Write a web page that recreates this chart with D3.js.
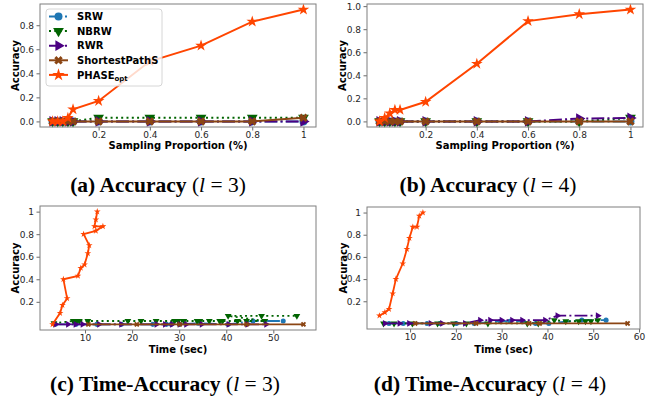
<!DOCTYPE html>
<html>
<head>
<meta charset="utf-8">
<script src="https://cdn.jsdelivr.net/npm/d3@7"></script>
<style>
  body { margin: 0; background: #fff; }
  svg { display: block; }
  .tick text { font-family: "DejaVu Sans", sans-serif; font-size: 9px; fill: #262626; }
  .lab { font-family: "DejaVu Sans", sans-serif; font-weight: bold; font-size: 10px; fill: #000; }
  .cap { font-family: "Liberation Serif", serif; font-size: 21.5px; fill: #000; }
</style>
</head>
<body>
<div id="chart"></div>
<script>
// sampling proportion panels (a), (b)
const samplingX = [0.02, 0.04, 0.06, 0.08, 0.1, 0.2, 0.4, 0.6, 0.8, 1];

const srwL3   = [0, 0, 0, 0, 0, 0, 0, 0, 0, 0];
const nbrwL3  = [0, 0, 0, 0, 0, 0.03, 0.03, 0.03, 0.03, 0.03];
const rwrL3   = [0, 0, 0, 0, 0, 0, 0, 0, 0, 0];
const spsL3   = [0, 0, 0, 0, 0, 0, 0, 0, 0, 0.03];
const phaseL3 = [0, 0, 0, 0.03, 0.1, 0.17, 0.5, 0.63, 0.83, 0.93];

const srwL4   = [0, 0, 0, 0, 0, 0, 0, 0, 0, 0];
const nbrwL4  = [0, 0, 0, 0, 0, 0, 0, 0, 0, 0.03];
const rwrL4   = [0, 0, 0, 0, 0, 0, 0, 0, 0.025, 0.03];
const spsL4   = [0, 0, 0, 0, 0, 0, 0, 0, 0, 0];
const phaseL4 = [0, 0.03, 0.07, 0.1, 0.1, 0.17, 0.5, 0.87, 0.93, 0.97];

// time-accuracy panels (c), (d)
const srwTimeL3 = [3.7, 8.1, 12.5, 17.7, 24.4, 27.3, 28.3, 30.1, 34.0, 40.4, 45.7, 52.1];
const srwAccL3  = [0, 0, 0, 0, 0, 0, 0, 0, 0.01, 0, 0.03, 0.03];
const nbrwTimeL3 = [3.4, 7.5, 8.2, 8.8, 10.6, 19.1, 21.9, 25.1, 29.0, 29.8, 31.0, 33.8, 34.4, 36.4, 38.6, 39.2, 42.4, 44.3, 48.2, 40.4, 47.5, 55.0];
const nbrwAccL3  = [0.01, 0.03, 0.03, 0.03, 0.03, 0.03, 0.03, 0.03, 0.03, 0.03, 0.03, 0.03, 0.03, 0.03, 0.03, 0.03, 0.03, 0.03, 0.03, 0.075, 0.075, 0.075];
const rwrTimeL3 = [3.7, 6.4, 8.0, 9.5, 13.0, 17.7, 25.2, 27.0, 28.5, 30.1, 31.5, 34.8, 40.5, 44.5, 48.5];
const rwrAccL3  = [0, 0, 0, 0, 0, 0, 0, 0, 0, 0, 0, 0, 0, 0, 0];
const spsTimeL3 = [10.7, 21.0, 30.1, 44.3, 56.4];
const spsAccL3  = [0, 0, 0, 0, 0];
const phaseTimeL3 = [3.1, 4.7, 5.2, 6.2, 5.4, 8.5, 9.1, 9.9, 10.6, 10.9, 9.7, 12.3, 13.8, 12.0, 12.3, 12.6];
const phaseAccL3  = [0, 0.1, 0.17, 0.23, 0.40, 0.43, 0.50, 0.53, 0.63, 0.70, 0.80, 0.83, 0.87, 0.87, 0.93, 1.0];

const srwTimeL4 = [5.4, 8.5, 13.7, 16.5, 20.1, 24.0, 29.7, 31.8, 34.5, 37.4, 40.3, 47.5, 52.8];
const srwAccL4  = [0, 0, 0, 0, 0, 0, 0.02, 0.02, 0.02, 0, 0, 0.03, 0.03];
const nbrwTimeL4 = [4.2, 6.5, 10.5, 16.0, 19.5, 22.3, 27.0, 35.6, 38.0, 41.5, 44.0, 46.8, 48.3, 49.5, 51.0];
const nbrwAccL4  = [0, 0, 0, 0, 0, 0, 0, 0, 0, 0.03, 0.02, 0.02, 0.02, 0.02, 0.03];
const rwrTimeL4 = [4.5, 7.7, 9.8, 14.5, 17.0, 22.0, 25.3, 27.5, 30.0, 32.3, 34.5, 39.5, 42.2, 51.0];
const rwrAccL4  = [0, 0, 0, 0, 0, 0, 0.03, 0.03, 0.03, 0.03, 0.03, 0.03, 0.07, 0.07];
const spsTimeL4 = [11.1, 24.4, 36.0, 38.3, 57.5];
const spsAccL4  = [0, 0, 0, 0, 0];
const phaseTimeL4 = [3.3, 4.5, 5.4, 6.2, 6.9, 8.4, 9.3, 9.85, 10.6, 11.5, 12.0, 12.8];
const phaseAccL4  = [0.07, 0.1, 0.13, 0.27, 0.40, 0.54, 0.67, 0.77, 0.87, 0.87, 0.97, 1.0];

const methodNames = ["SRW", "NBRW", "RWR", "ShortestPathS", "PHASE"];
const propTicks = [0.2, 0.4, 0.6, 0.8, 1];

const styles = [
  { color: "#1f77b4", dash: "12.8,3.2,2,3.2", shape: "circle" },
  { color: "#006400", dash: "2,3.3", shape: "down" },
  { color: "#4b0082", dash: "12.8,3.2,2,3.2", shape: "right" },
  { color: "#8b4513", dash: null, shape: "x" },
  { color: "#ff4500", dash: null, shape: "star" }
];

const W = 649, H = 402;
const svg = d3.select("#chart").append("svg").attr("width", W).attr("height", H);

function zip(xs, ys) { return xs.map((x, i) => [x, ys[i]]); }

function padded(vals) {
  const [a, b] = d3.extent(vals);
  const m = (b - a) * 0.05;
  return [a - m, b + m];
}

function marker(shape, size, starSize) {
  const sym = d3.symbol();
  if (shape === "circle") return { d: sym.type(d3.symbolCircle).size(size)(), rot: 0 };
  if (shape === "down") return { d: sym.type(d3.symbolTriangle).size(size)(), rot: 180 };
  if (shape === "right") return { d: sym.type(d3.symbolTriangle).size(size)(), rot: 90 };
  if (shape === "x") return { d: sym.type(d3.symbolCross).size(size * 0.9)(), rot: 45 };
  return { d: sym.type(d3.symbolStar).size(starSize)(), rot: 0 };
}

function panel(p) {
  const allX = [].concat(...p.series.map(s => s.map(d => d[0])));
  const allY = [].concat(...p.series.map(s => s.map(d => d[1])));
  const x = d3.scaleLinear().domain(padded(allX)).range([p.left, p.right]);
  const y = d3.scaleLinear().domain(padded(allY)).range([p.bottom, p.top]);
  const g = svg.append("g");

  const xa = g.append("g").attr("transform", `translate(0,${p.bottom})`)
    .call(d3.axisBottom(x).tickValues(p.xTicks).tickFormat(p.xFmt).tickSize(3.5).tickPadding(1.5));
  const ya = g.append("g").attr("transform", `translate(${p.left},0)`)
    .call(d3.axisLeft(y).tickValues(p.yTicks).tickFormat(p.yFmt).tickSize(3.5).tickPadding(2.5));
  [xa, ya].forEach(a => {
    a.select(".domain").remove();
    a.selectAll(".tick line").attr("stroke", "#444").attr("stroke-width", 0.8);
  });

  const line = d3.line().x(d => x(d[0])).y(d => y(d[1]));
  p.series.forEach((s, i) => {
    const st = styles[i];
    g.append("path").datum(s).attr("d", line)
      .attr("fill", "none").attr("stroke", st.color).attr("stroke-width", p.lw)
      .attr("stroke-dasharray", st.dash);
    const m = marker(st.shape, p.ms, p.star);
    g.selectAll(null).data(s).join("path")
      .attr("d", m.d).attr("fill", st.color)
      .attr("transform", d => `translate(${x(d[0])},${y(d[1])}) rotate(${m.rot})`);
  });

  g.append("rect").attr("x", p.left).attr("y", p.top)
    .attr("width", p.right - p.left).attr("height", p.bottom - p.top)
    .attr("fill", "none").attr("stroke", "#7f7f7f").attr("stroke-width", 1);

  g.append("text").attr("class", "lab").attr("text-anchor", "middle")
    .attr("transform", `translate(${p.yLabelX},${(p.top + p.bottom) / 2}) rotate(-90)`)
    .text("Accuracy");
  g.append("text").attr("class", "lab").attr("text-anchor", "middle")
    .attr("x", (p.left + p.right) / 2).attr("y", p.xLabelY).text(p.xLabel);

  const cap = g.append("text").attr("class", "cap").attr("text-anchor", "middle")
    .attr("x", p.capX).attr("y", p.capY);
  cap.append("tspan").attr("font-weight", "bold").text(p.capTitle + " ");
  cap.append("tspan").text("(");
  cap.append("tspan").attr("font-style", "italic").text("l");
  cap.append("tspan").text(" = " + p.capL + ")");
  return g;
}

const fmtProp = d => (d === 1 ? "1" : d3.format(".1f")(d));
const fmtAcc = d => (d === 1 ? "1" : d3.format(".1f")(d));

panel({
  left: 40, right: 316, top: 4, bottom: 127, lw: 2, ms: 50, star: 42,
  series: [srwL3, nbrwL3, rwrL3, spsL3, phaseL3].map(a => zip(samplingX, a)),
  xTicks: propTicks, xFmt: fmtProp, yTicks: [0, 0.2, 0.4, 0.6, 0.8], yFmt: d3.format(".1f"),
  yLabelX: 19, xLabelY: 149, xLabel: "Sampling Proportion (%)",
  capX: 158, capY: 192, capTitle: "(a) Accuracy", capL: 3
});
panel({
  left: 367, right: 643, top: 4, bottom: 127, lw: 2, ms: 50, star: 42,
  series: [srwL4, nbrwL4, rwrL4, spsL4, phaseL4].map(a => zip(samplingX, a)),
  xTicks: propTicks, xFmt: fmtProp, yTicks: [0, 0.2, 0.4, 0.6, 0.8, 1.0], yFmt: d3.format(".1f"),
  yLabelX: 346, xLabelY: 149, xLabel: "Sampling Proportion (%)",
  capX: 488, capY: 192, capTitle: "(b) Accuracy", capL: 4
});
panel({
  left: 40, right: 316, top: 206, bottom: 330, lw: 1.8, ms: 20, star: 14,
  series: [zip(srwTimeL3, srwAccL3), zip(nbrwTimeL3, nbrwAccL3), zip(rwrTimeL3, rwrAccL3),
           zip(spsTimeL3, spsAccL3), zip(phaseTimeL3, phaseAccL3)],
  xTicks: [10, 20, 30, 40, 50], xFmt: d3.format("d"), yTicks: [0.2, 0.4, 0.6, 0.8, 1], yFmt: fmtAcc,
  yLabelX: 19, xLabelY: 353, xLabel: "Time (sec)",
  capX: 165, capY: 391, capTitle: "(c) Time-Accuracy", capL: 3
});
panel({
  left: 367, right: 640, top: 207, bottom: 329, lw: 1.8, ms: 20, star: 14,
  series: [zip(srwTimeL4, srwAccL4), zip(nbrwTimeL4, nbrwAccL4), zip(rwrTimeL4, rwrAccL4),
           zip(spsTimeL4, spsAccL4), zip(phaseTimeL4, phaseAccL4)],
  xTicks: [10, 20, 30, 40, 50, 60], xFmt: d3.format("d"), yTicks: [0.2, 0.4, 0.6, 0.8, 1], yFmt: fmtAcc,
  yLabelX: 347, xLabelY: 353, xLabel: "Time (sec)",
  capX: 490, capY: 391, capTitle: "(d) Time-Accuracy", capL: 4
});

// legend in panel (a)
const leg = svg.append("g");
leg.append("rect").attr("x", 46).attr("y", 9).attr("width", 116).attr("height", 77).attr("rx", 3)
  .attr("fill", "#fff").attr("fill-opacity", 0.8).attr("stroke", "#cccccc").attr("stroke-width", 0.8);
methodNames.forEach((name, i) => {
  const st = styles[i];
  const yy = 16.5 + i * 14.6;
  leg.append("line").attr("x1", 49).attr("x2", 68).attr("y1", yy).attr("y2", yy)
    .attr("stroke", st.color).attr("stroke-width", 2).attr("stroke-dasharray", st.dash);
  const m = marker(st.shape, 50, 48);
  leg.append("path").attr("d", m.d).attr("fill", st.color)
    .attr("transform", `translate(58.5,${yy}) rotate(${m.rot})`);
  const t = leg.append("text").attr("class", "lab").attr("x", 77).attr("y", yy + 3.6);
  t.append("tspan").text(name);
  if (name === "PHASE") {
    t.append("tspan").attr("font-size", "7px").attr("dy", 2.5).text("opt");
  }
});
</script>
</body>
</html>
